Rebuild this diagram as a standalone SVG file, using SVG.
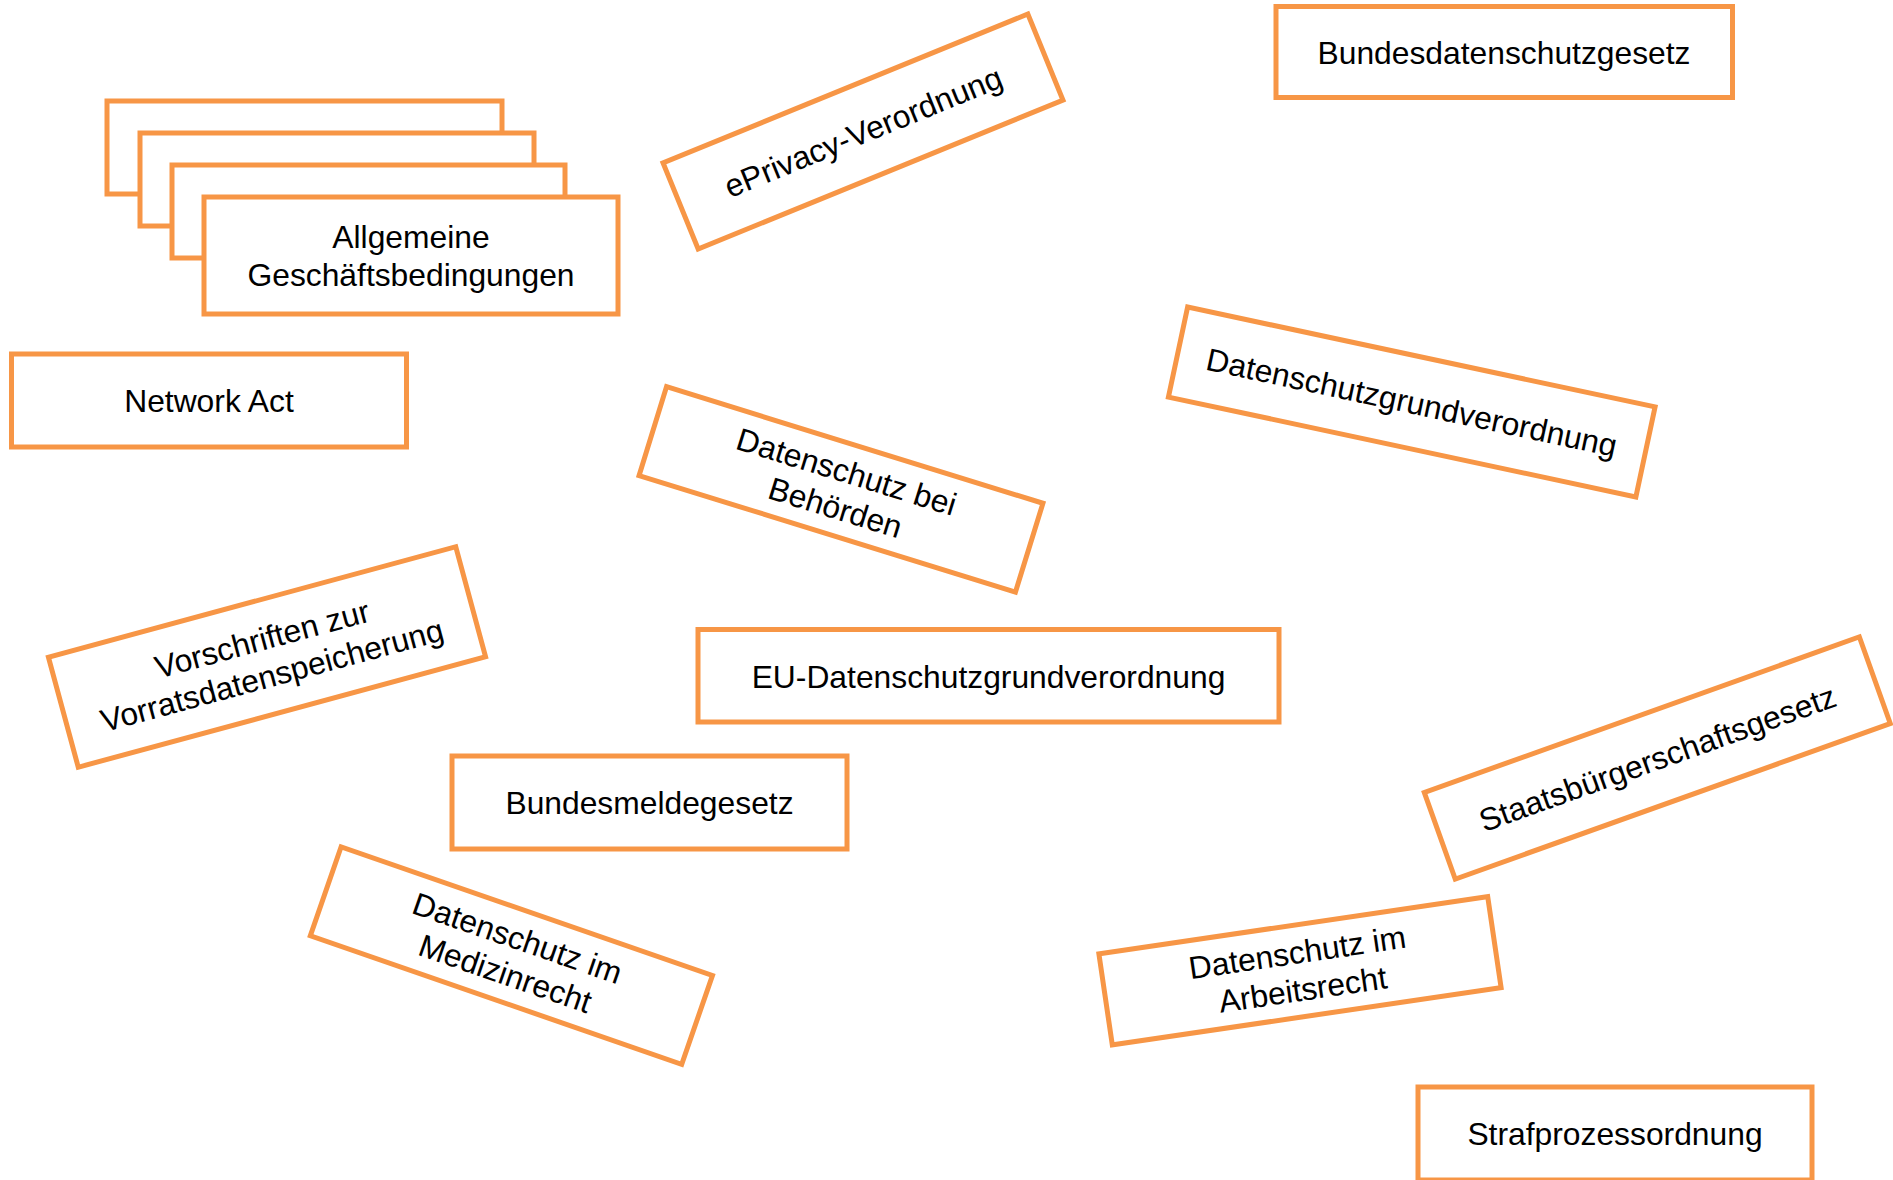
<svg xmlns="http://www.w3.org/2000/svg" width="1893" height="1180" viewBox="0 0 1893 1180">
<style>
.box{fill:#ffffff;stroke:#F79646;stroke-width:5}
.lbl{font-family:"Liberation Sans",Arial,sans-serif;font-size:31.8px;fill:#000000;text-anchor:middle}
</style>
<rect width="1893" height="1180" fill="#ffffff"/>
<g id="connectors"></g>
<g id="bundesdatenschutzgesetz">
<rect class="box" x="1276" y="6.5" width="456.5" height="91"/>
<text class="lbl" x="1504" y="63.5">Bundesdatenschutzgesetz</text>
</g>
<g id="agb">
<rect class="box" x="107" y="101" width="395" height="93"/>
<rect class="box" x="140" y="133" width="394" height="93"/>
<rect class="box" x="172" y="165" width="393" height="93"/>
<rect class="box" x="204" y="197" width="414" height="117"/>
<text class="lbl" x="411" y="248">Allgemeine</text>
<text class="lbl" x="411" y="285.5">Geschäftsbedingungen</text>
</g>
<g id="network-act">
<rect class="box" x="11.5" y="354" width="395" height="93"/>
<text class="lbl" x="209" y="411.5">Network Act</text>
</g>
<g id="eprivacy" transform="translate(863,131.5) rotate(-22.2)">
<rect class="box" x="-197" y="-46.5" width="394" height="93"/>
<text class="lbl" x="0" y="11.5">ePrivacy-Verordnung</text>
</g>
<g id="datenschutzgrundverordnung" transform="translate(1411.75,402) rotate(12.06)">
<rect class="box" x="-239" y="-46" width="478" height="92"/>
<text class="lbl" x="0" y="11.5">Datenschutzgrundverordnung</text>
</g>
<g id="datenschutz-behoerden" transform="translate(841,489.4) rotate(17.2)">
<rect class="box" x="-197" y="-46.5" width="394" height="93"/>
<text class="lbl" x="0" y="-7.5">Datenschutz bei</text>
<text class="lbl" x="0" y="30">Behörden</text>
</g>
<g id="vorratsdatenspeicherung" transform="translate(267,657) rotate(-15.16)">
<rect class="box" x="-211" y="-57" width="422" height="114"/>
<text class="lbl" x="0" y="-7.5">Vorschriften zur</text>
<text class="lbl" x="0" y="30">Vorratsdatenspeicherung</text>
</g>
<g id="eu-dsgvo">
<rect class="box" x="698" y="629.5" width="581" height="92.5"/>
<text class="lbl" x="988.5" y="687.5">EU-Datenschutzgrundverordnung</text>
</g>
<g id="staatsbuergerschaftsgesetz" transform="translate(1657.3,758) rotate(-19.67)">
<rect class="box" x="-231" y="-46" width="462" height="92"/>
<text class="lbl" x="0" y="11.5">Staatsbürgerschaftsgesetz</text>
</g>
<g id="bundesmeldegesetz">
<rect class="box" x="452" y="756" width="395" height="93"/>
<text class="lbl" x="649.5" y="814">Bundesmeldegesetz</text>
</g>
<g id="medizinrecht" transform="translate(511.4,955.6) rotate(19.1)">
<rect class="box" x="-196.5" y="-47" width="393" height="94"/>
<text class="lbl" x="0" y="-7.5">Datenschutz im</text>
<text class="lbl" x="0" y="30">Medizinrecht</text>
</g>
<g id="arbeitsrecht" transform="translate(1300,970.75) rotate(-8.38)">
<rect class="box" x="-196.5" y="-46" width="393" height="92"/>
<text class="lbl" x="0" y="-7.5">Datenschutz im</text>
<text class="lbl" x="0" y="30">Arbeitsrecht</text>
</g>
<g id="strafprozessordnung">
<rect class="box" x="1418" y="1087" width="394" height="93"/>
<text class="lbl" x="1615" y="1144.5">Strafprozessordnung</text>
</g>
</svg>
